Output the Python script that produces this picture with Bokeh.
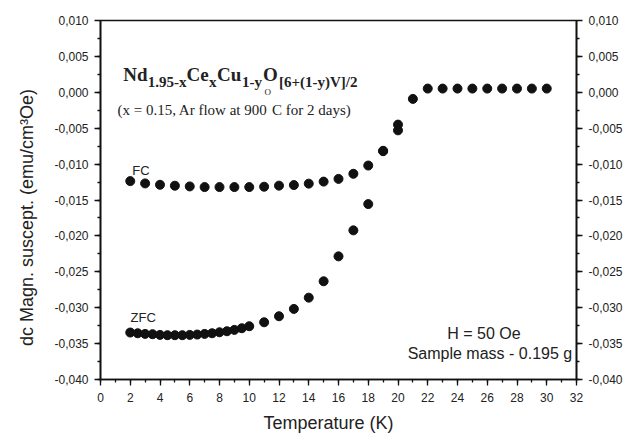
from bokeh.plotting import figure
from bokeh.models import (LinearAxis, FixedTicker, CustomJSTickFormatter, Label, Range1d)
from bokeh.embed import file_html
from bokeh.resources import INLINE

# ---- data ----
fc_T = [2, 3, 4, 5, 6, 7, 8, 9, 10, 11, 12, 13, 14, 15, 16, 17, 18, 19, 20, 21,
        22, 23, 24, 25, 26, 27, 28, 29, 30]
fc_chi = [-0.01237, -0.01269, -0.01288, -0.01301, -0.01311, -0.01320, -0.01320,
          -0.01320, -0.01320, -0.01315, -0.01300, -0.01292, -0.01272, -0.01244,
          -0.01206, -0.01135, -0.01020, -0.00815, -0.00450, -0.00092,
          0.00052, 0.00052, 0.00052, 0.00052, 0.00052, 0.00052, 0.00052, 0.00052, 0.00052]

zfc_T = [2, 2.5, 3, 3.5, 4, 4.5, 5, 5.5, 6, 6.5, 7, 7.5, 8, 8.5, 9, 9.5, 10,
         11, 12, 13, 14, 15, 16, 17, 18, 19, 20]
zfc_chi = [-0.03346, -0.03356, -0.03365, -0.03369, -0.03379, -0.03383, -0.03383,
           -0.03383, -0.03379, -0.03374, -0.03365, -0.03356, -0.03342, -0.03328,
           -0.03309, -0.03286, -0.03258, -0.03203, -0.03119, -0.03017, -0.02860,
           -0.02632, -0.02285, -0.01923, -0.01557, -0.00820, -0.00530]

x_ticks = list(range(0, 33, 2))
x_minor = list(range(0, 33, 1))
y_ticks = [-0.040, -0.035, -0.030, -0.025, -0.020, -0.015, -0.010, -0.005, 0.000, 0.005, 0.010]
y_minor = [-0.040 + 0.0025 * i for i in range(21)]

SANS = "Liberation Sans"
SERIF = "Liberation Serif"

p = figure(width=629, height=435, output_backend="svg", toolbar_location=None,
           x_range=Range1d(0, 32), y_range=Range1d(-0.040, 0.010),
           min_border_left=100, min_border_right=53, min_border_top=20, min_border_bottom=55)
p.xgrid.visible = False
p.ygrid.visible = False
p.background_fill_color = "white"
p.border_fill_color = "white"
p.outline_line_color = "#111111"
p.outline_line_width = 1.6

fmt = CustomJSTickFormatter(code="var t = Math.abs(tick) < 1e-12 ? 0 : tick; return t.toFixed(3).replace('.', ',');")


def style_axis(ax):
    ax.axis_line_color = "#111111"
    ax.axis_line_width = 1.6
    ax.major_tick_line_color = "#111111"
    ax.minor_tick_line_color = "#111111"
    ax.major_tick_line_width = 1.3
    ax.minor_tick_line_width = 1.3
    ax.major_tick_out = 6
    ax.major_tick_in = 0
    ax.minor_tick_out = 3
    ax.minor_tick_in = 0
    ax.major_label_text_font = SANS
    ax.major_label_text_font_size = "12px"
    ax.major_label_text_color = "#222222"
    ax.axis_label_text_font = SANS
    ax.axis_label_text_font_style = "normal"
    ax.axis_label_text_color = "#222222"
    ax.axis_label_text_font_size = "18px"


xa = p.xaxis[0]
style_axis(xa)
xa.ticker = FixedTicker(ticks=x_ticks, minor_ticks=x_minor)
xa.axis_label = "Temperature (K)\u00a0\u00a0\u00a0\u00a0"
xa.major_label_standoff = 7
xa.axis_label_standoff = 8

ya = p.yaxis[0]
style_axis(ya)
ya.ticker = FixedTicker(ticks=y_ticks, minor_ticks=y_minor)
ya.formatter = fmt
ya.axis_label = "dc  Magn. suscept. (emu/cm\u00b3Oe)\u00a0\u00a0\u00a0\u00a0\u00a0\u00a0"
ya.major_label_standoff = 6
ya.axis_label_standoff = 14

ra = LinearAxis(ticker=FixedTicker(ticks=y_ticks, minor_ticks=y_minor), formatter=fmt)
style_axis(ra)
ra.major_label_standoff = 6
p.add_layout(ra, "right")

# ---- data marks ----
p.scatter(fc_T, fc_chi, size=9, color="#111111", marker="circle")
p.scatter(zfc_T, zfc_chi, size=9, color="#111111", marker="circle")


def lab(x, y, text, font=SANS, size="13px", style="normal", align="left"):
    p.add_layout(Label(x=x, y=y, text=text, text_font=font, text_font_size=size,
                       text_font_style=style, text_color="#222222", text_align=align,
                       text_baseline="alphabetic"))


# formula (bold serif, with subscripts)
main_y = 0.00252
sub_y = 0.00146
lab(1.526, main_y, "Nd", SERIF, "19px", "bold")
lab(3.18, sub_y, "1.95-x", SERIF, "15px", "bold")
lab(5.782, main_y, "Ce", SERIF, "19px", "bold")
lab(7.294, sub_y, "x", SERIF, "15px", "bold")
lab(7.832, main_y, "Cu", SERIF, "19px", "bold")
lab(9.513, sub_y, "1-y", SERIF, "15px", "bold")
lab(10.924, main_y, "O", SERIF, "19px", "bold")
lab(12.0, sub_y, "[6+(1-y)V]/2", SERIF, "15px", "bold")

# conditions line
lab(1.14, -0.00245, "(x = 0.15, Ar flow at 900", SERIF, "15px")
lab(11.03, 0.00003, "O", SERIF, "9px")
lab(11.53, -0.00245, "C for 2 days)", SERIF, "15px")

lab(2.131, -0.01089, "FC", SANS, "13px")
lab(2.017, -0.03142, "ZFC", SANS, "13px")

lab(23.31, -0.03364, "H = 50 Oe", SANS, "16px")
lab(31.71, -0.03643, "Sample mass - 0.195 g", SANS, "16px", align="right")

open("out.html", "w").write(file_html(p, INLINE))
